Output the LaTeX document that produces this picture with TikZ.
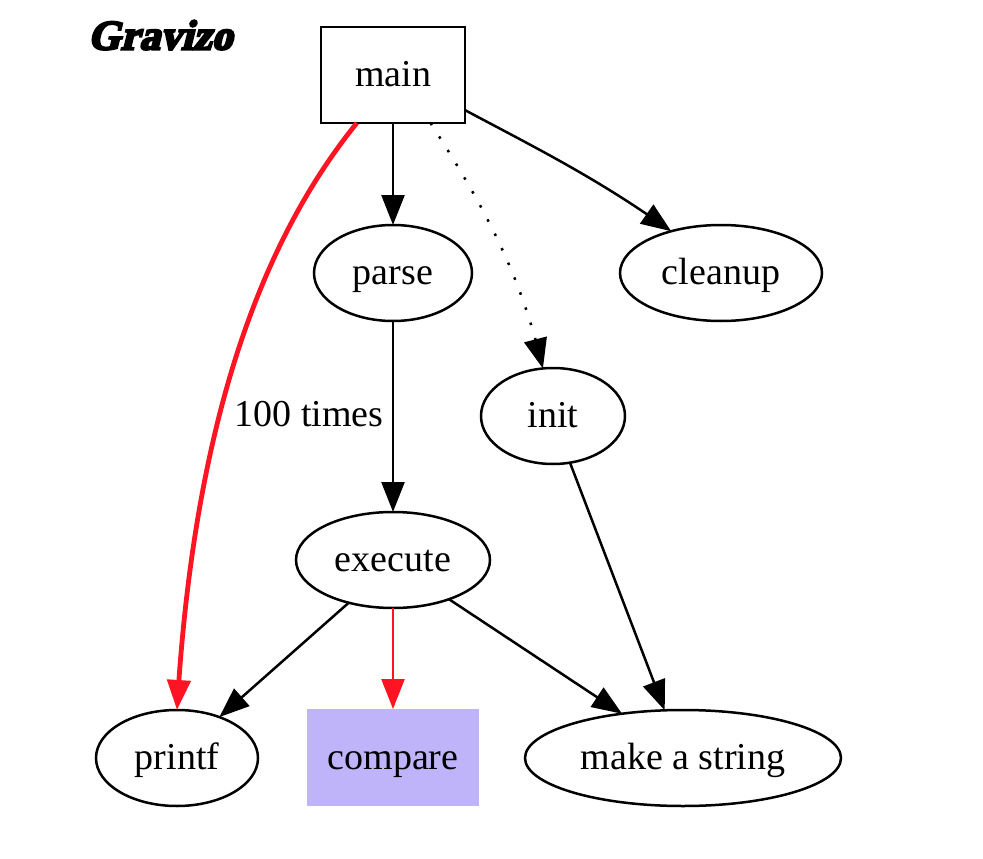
\documentclass[tikz,border=0pt]{standalone}
\usepackage{fontspec}
\setmainfont{Liberation Serif}
\newfontfamily\logofont[FakeBold=5,FakeSlant=0.25]{Liberation Serif Bold}
\usetikzlibrary{arrows.meta,shapes.geometric,bending}
\definecolor{edgered}{HTML}{FF1424}
\definecolor{boxblue}{HTML}{BFB4FA}
\tikzset{
  every node/.style={font=\fontsize{38}{44}\selectfont, inner sep=0pt, outer sep=0pt, text height=26pt, text depth=3pt},
  oval/.style={ellipse, draw=black, line width=2.5pt},
  mainbox/.style={rectangle, draw=black, line width=2.5pt, minimum width=144pt, minimum height=96pt},
  fillbox/.style={rectangle, fill=boxblue, minimum width=172pt, minimum height=97pt},
  edge/.style={draw=black, line width=2.5pt, -{Triangle[length=30pt,width=23pt,flex]}},
  hotedge/.style={draw=edgered, line width=2.5pt, -{Triangle[length=30pt,width=23pt,flex,color=edgered]}},
  heavyedge/.style={hotedge, line width=4.8pt},
  dotted edge/.style={edge, dash pattern=on 2.5pt off 13.5pt},
  plainlabel/.style={}
}
\begin{document}
\begin{tikzpicture}[x=1pt,y=-1pt]
\useasboundingbox (0,0) rectangle (983,859);
\fill[white] (0,0) rectangle (983,859);
\node[plainlabel, font=\fontsize{42}{44}\selectfont\logofont] (logo) at (160,38) {Gravizo};
\node[mainbox] (main) at (393,75) {main};
\node[oval, minimum width=158pt, minimum height=96pt] (parse) at (393,273) {parse};
\node[oval, minimum width=202pt, minimum height=96pt] (cleanup) at (721,273) {cleanup};
\node[oval, minimum width=144pt, minimum height=96pt] (init) at (553,416) {init};
\node[oval, minimum width=194pt, minimum height=96pt] (execute) at (393,560) {execute};
\node[oval, minimum width=162pt, minimum height=96pt] (printf) at (177,758) {printf};
\node[fillbox] (compare) at (393,757.5) {compare};
\node[oval, minimum width=316pt, minimum height=96pt] (string) at (683,758) {make a string};
\node[plainlabel] (times) at (309,415) {100 times};
\draw[edge] (main.south) -- (parse.north);
\draw[edge] (parse.south) -- (execute.north);
\draw[heavyedge] (main.233) .. controls (258,245) and (193,430) .. (printf.north);
\draw[dotted edge] (main.-52) .. controls (480,200) and (520,270) .. (init.102);
\draw[edge] (main.-26) .. controls (540,150) and (600,180) .. (cleanup.140);
\draw[edge] (init.-70) -- (string.111);
\draw[edge] (execute.-136) -- (printf.44);
\draw[hotedge] (execute.south) -- (compare.north);
\draw[edge] (execute.-35) -- (string.144);
\end{tikzpicture}
\end{document}
